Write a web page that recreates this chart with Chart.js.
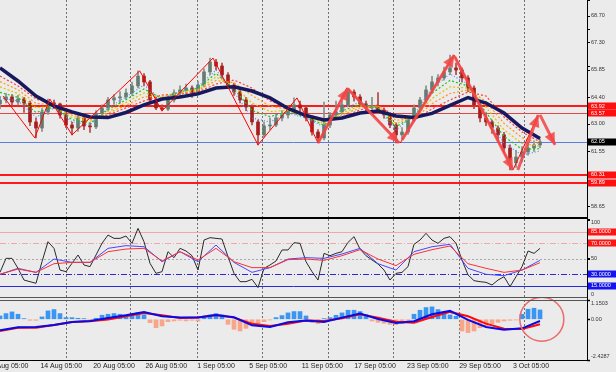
<!DOCTYPE html>
<html>
<head>
<meta charset="utf-8">
<title>Oil chart</title>
<script src="https://cdn.jsdelivr.net/npm/chart.js@4.4.1/dist/chart.umd.min.js"></script>
<style>
  html, body { margin: 0; padding: 0; background: #ebebeb; overflow: hidden; }
  #wrap { position: relative; width: 616px; height: 372px; }
  #wrap canvas { position: absolute; left: 0; }
  .rule { position: absolute; left: 0; width: 588px; z-index: 5; }
</style>
</head>
<body>
<div id="wrap">
  <canvas id="cMain" width="616" height="217" style="top:0"></canvas>
  <canvas id="cRsi" width="616" height="79" style="top:219px"></canvas>
  <canvas id="cMacd" width="616" height="75" style="top:297px"></canvas>
  <div class="rule" style="top:217px;height:2px;background:#000"></div>
  <div class="rule" style="top:297px;height:1px;background:#555"></div>
  <div class="rule" style="top:300px;height:1px;background:#555"></div>
  <div class="rule" style="top:360px;height:1px;background:#000"></div>
  <div class="rule" style="top:0;left:587px;width:1px;height:361px;background:#000"></div>
</div>
<script>
// ---- datos (indice = vela) ----
const candleOpen = [64.05,64.26,64.42,64.15,64.31,64.10,63.10,62.78,63.63,64.10,
  64.05,63.47,62.94,62.78,63.31,62.89,62.84,63.57,63.84,64.26,
  64.37,64.42,64.63,65.00,65.52,65.21,64.26,63.84,63.78,64.26,
  64.63,64.79,64.89,64.63,65.05,65.74,66.26,66.05,65.58,65.05,
  64.68,64.26,63.89,63.10,62.42,62.89,62.94,63.31,63.47,63.73,
  64.00,63.84,63.31,62.57,62.26,62.94,63.47,63.63,64.00,64.68,
  64.42,64.05,63.84,63.94,63.73,63.47,62.94,62.42,62.57,63.20,
  63.84,64.26,64.79,65.21,65.42,65.74,65.95,65.84,65.42,64.89,
  64.00,63.31,63.10,62.78,62.42,61.73,60.95,61.25,61.52,61.73,61.89];
const candleHigh = [64.45,64.60,64.55,64.50,64.40,64.20,63.30,63.80,64.31,64.25,
  64.10,63.60,63.10,63.50,63.40,63.05,63.70,64.00,64.40,64.55,
  64.70,64.85,65.20,65.79,65.65,65.30,64.40,64.00,64.45,64.80,
  65.00,65.10,65.00,65.25,65.90,66.47,66.40,66.20,65.70,65.15,
  64.80,64.40,64.00,63.20,63.10,63.30,63.50,63.70,63.95,64.37,
  64.20,63.95,63.40,62.70,64.15,63.60,64.20,64.20,64.89,64.80,
  64.55,64.20,64.40,64.65,63.85,63.55,63.05,62.80,63.35,64.00,
  64.40,65.00,65.50,65.60,66.00,66.63,66.20,65.95,65.55,65.00,
  64.10,63.50,63.20,62.90,62.55,61.90,61.60,61.80,62.00,62.10,62.20];
const candleLow = [63.80,64.10,63.95,64.00,63.60,62.90,62.26,62.60,63.50,63.80,
  63.30,62.80,62.42,62.60,62.70,62.55,62.75,63.40,63.70,64.05,
  64.10,64.30,64.50,64.90,65.00,64.10,63.75,63.68,63.70,64.15,
  64.45,64.60,64.40,64.55,64.95,65.60,65.85,65.40,64.90,64.50,
  64.10,63.70,62.95,61.89,62.30,62.70,62.85,63.15,63.30,63.60,
  63.65,63.15,62.40,61.99,62.15,62.80,63.30,63.50,63.90,64.20,
  63.90,63.70,63.75,63.60,63.30,62.80,61.99,62.20,62.45,63.10,
  63.70,64.15,64.60,65.00,65.30,65.60,65.60,65.20,64.70,63.80,
  63.10,62.90,62.50,62.10,61.50,60.57,60.70,61.00,61.35,61.55,61.75];
const candleClose = [64.26,64.42,64.15,64.31,64.10,63.10,62.78,63.63,64.10,64.05,
  63.47,62.94,62.78,63.31,62.89,62.84,63.57,63.84,64.26,64.37,
  64.42,64.63,65.00,65.52,65.21,64.26,63.84,63.78,64.26,64.63,
  64.79,64.89,64.63,65.05,65.74,66.26,66.05,65.58,65.05,64.68,
  64.26,63.89,63.10,62.42,62.89,62.94,63.31,63.47,63.73,64.00,
  63.84,63.31,62.57,62.26,62.94,63.47,63.63,64.00,64.68,64.42,
  64.05,63.84,63.94,63.73,63.47,62.94,62.42,62.57,63.20,63.84,
  64.26,64.79,65.21,65.42,65.74,65.95,65.84,65.42,64.89,64.00,
  63.31,63.10,62.78,62.42,61.73,61.10,61.25,61.52,61.73,61.89,62.05];

// medias (muestreadas cada 3 velas)
const sampleIdx = [0,3,6,9,12,15,18,21,24,27,30,33,36,39,42,45,48,51,54,57,60,63,66,69,72,75,78,81,84,87,90];
const maSlow = [65.95,65.26,64.47,63.94,63.63,63.36,63.33,63.60,64.00,64.31,64.42,64.58,64.89,64.95,64.73,64.37,63.81,63.44,63.20,63.31,63.57,63.68,63.42,63.34,63.55,63.97,64.39,64.10,63.57,62.78,62.23];
const ribBlue = [64.37,64.21,63.36,63.84,63.10,62.94,63.84,64.42,65.05,64.26,64.73,64.95,65.84,64.68,63.31,63.10,63.57,63.31,62.84,63.79,64.15,63.79,62.68,63.47,64.89,65.63,65.10,63.31,61.99,61.36,61.57];
const ribGreen = [64.66,64.40,63.60,63.89,63.22,63.03,63.75,64.27,64.84,64.33,64.70,64.88,65.66,64.84,63.71,63.38,63.64,63.36,62.93,63.68,64.05,63.84,62.85,63.40,64.62,65.29,65.00,63.60,62.34,61.66,61.69];
const ribYellow = [64.95,64.60,63.84,63.94,63.34,63.13,63.65,64.13,64.63,64.39,64.66,64.81,65.47,65.00,64.10,63.65,63.71,63.42,63.02,63.57,63.94,63.89,63.02,63.34,64.34,64.95,64.89,63.89,62.68,61.97,61.81];
const ribOrange = [65.23,64.80,64.08,64.00,63.46,63.22,63.56,63.98,64.42,64.46,64.62,64.75,65.29,65.16,64.50,63.93,63.77,63.47,63.11,63.47,63.84,63.94,63.19,63.27,64.06,64.60,64.79,64.18,63.02,62.27,61.93];
const ribRed = [65.52,65.00,64.31,64.05,63.57,63.31,63.47,63.84,64.21,64.52,64.58,64.68,65.10,65.31,64.89,64.21,63.84,63.52,63.20,63.36,63.73,64.00,63.36,63.20,63.79,64.26,64.68,64.47,63.36,62.57,62.05];

// zigzag y flechas
const zigIdx = [0.5,5.8,8.3,12,23.3,27,35.5,43,49.5,53,57.8,66.7,75.7,85.5,89.7];
const zigVal = [64.47,62.26,64.31,62.42,65.79,63.68,66.47,61.89,64.37,61.99,64.89,61.99,66.63,60.57,63.47];
const arrowFromIdx = [53,58,67,75.8,86.3,90];
const arrowFromVal = [61.99,64.84,62.15,66.53,60.57,63.47];
const arrowToIdx = [58,66.5,75.7,85.5,89.7,92.5];
const arrowToVal = [64.89,61.99,66.63,60.57,63.47,61.89];

// niveles y etiquetas del eje de precio
const priceLevels = [63.92, 63.57, 62.05, 60.31, 59.89];
const priceTicks = [68.70, 67.30, 65.85, 64.40, 63.00, 61.55, 58.65];

// RSI
const rsiBlack = [32.5,50.6,50.6,37.7,22.6,20.5,18.4,46.3,72.1,63.5,
  35.5,33.4,44.2,54.9,42.0,39.9,54.9,70.0,80.7,76.4,
  76.4,79.4,70.0,89.3,72.1,44.2,31.2,33.4,59.2,51.5,
  63.5,60.1,54.0,35.5,74.2,77.3,76.4,75.5,52.7,31.2,
  20.5,20.5,23.5,12.8,37.7,42.0,47.2,61.4,61.4,70.8,
  70.0,46.3,33.4,22.6,57.0,54.0,57.0,59.2,71.2,78.6,
  62.6,54.0,48.5,43.3,35.5,22.6,31.2,32.5,39.9,68.7,
  74.2,82.9,74.2,70.0,76.4,78.6,70.0,48.5,29.1,21.8,
  20.5,19.6,16.2,22.6,26.9,14.1,26.9,39.9,60.1,57.0,63.5];
const rsiBlue = [30.0,37.7,32.5,49.7,45.4,45.4,63.5,67.0,65.6,46.3,59.2,46.3,67.8,45.4,32.5,38.6,49.7,51.5,50.6,56.2,63.5,43.7,35.5,59.2,65.6,68.7,37.7,30.0,28.2,35.5,48.0];
const rsiRed = [30.0,36.8,32.5,43.7,45.4,45.4,59.2,62.6,63.5,47.2,59.2,48.5,63.5,46.3,38.6,38.6,48.9,49.7,48.0,54.0,61.8,49.7,41.2,55.8,61.8,66.5,43.7,37.7,32.5,35.5,45.0];
const rsiLevels = [85, 70, 50, 30, 15];
const rsiTicks = [100, 50, 0];

// MACD
const macdHist = [0.20,0.34,0.44,0.30,0.04,-0.06,-0.06,0.14,0.50,0.58,
  0.34,0.10,0.10,0.06,0.04,-0.04,0.06,0.24,0.30,0.34,
  0.30,0.26,0.34,0.40,0.26,-0.20,-0.50,-0.40,-0.14,-0.10,
  -0.06,-0.10,-0.06,-0.10,0.18,0.26,0.34,0.26,-0.30,-0.60,
  -0.70,-0.54,-0.34,-0.26,-0.14,-0.04,0.10,0.22,0.38,0.46,
  0.46,0.20,-0.20,-0.26,0.04,0.10,0.24,0.38,0.54,0.54,
  0.46,0.26,-0.10,-0.18,-0.24,-0.30,-0.32,-0.26,-0.10,0.30,
  0.54,0.70,0.74,0.58,0.40,0.26,0.18,-0.70,-0.80,-0.70,
  -0.50,-0.38,-0.26,-0.18,-0.10,-0.06,-0.04,0.30,0.60,0.66,0.56];
const macdMain = [-0.66,-0.48,-0.46,-0.34,-0.16,-0.10,0.08,0.24,0.44,0.18,0.10,0.10,0.26,0.12,-0.36,-0.46,-0.18,-0.08,-0.16,0.10,0.34,0.02,-0.22,-0.12,0.30,0.50,-0.04,-0.46,-0.62,-0.54,-0.10];
const macdSignal = [-0.70,-0.50,-0.50,-0.34,-0.16,-0.12,-0.02,0.18,0.38,0.24,0.08,0.10,0.26,0.10,-0.26,-0.40,-0.26,-0.08,-0.10,0.06,0.30,0.10,-0.14,-0.20,0.14,0.44,0.18,-0.26,-0.56,-0.58,-0.30];
const macdTicks = [1.1503, 0, -2.4287];
const macdTickText = ['1.1503', '0.00', '-2.4287'];
const circleIdx = 90.3, circleVal = 0;

// eje de tiempo
const dateIdx = [1.6,10.2,19,27.7,36,44.7,53.7,62.5,71.3,80,88.5];
const dateLabels = ['8 Aug 05:00','14 Aug 05:00','20 Aug 05:00','26 Aug 05:00','1 Sep 05:00','5 Sep 05:00','11 Sep 05:00','17 Sep 05:00','23 Sep 05:00','29 Sep 05:00','3 Oct 05:00'];
const sepIdx = [10.95,21.7,32.8,43.6,54.6,65.45,76.5,87.3];

// ---- estilos ----
const X_MAX = 97.83;
const FONT = "'Liberation Sans', Arial, sans-serif";
const AXIS_FONT = '5.5px ' + FONT;
const ARROW = 'rgba(242,72,72,0.88)';
const levelColors = ['#ff1a1a', '#e24848', '#5b7fe0', '#ff1a1a', '#ff1a1a'];
const levelWidths = [2, 1, 1, 2, 2];
const levelBoxColors = ['#ff1010', '#ff1010', '#000000', '#ff1010', '#ff1010'];
const rsiLevelColors = ['#f3a8a8', '#f3a8a8', '#a8a8a8', '#2a2ad8', '#2a2ad8'];
const rsiLevelDash = [[], [6, 2, 1, 2], [2, 2], [6, 2, 1, 2], []];
const rsiBoxColors = { 85: '#ff1414', 70: '#ff1414', 30: '#1414f0', 15: '#1414f0' };

function series(idx, vals, color, width, dash, order) {
  return {
    type: 'line',
    data: idx.map((x, k) => ({ x, y: vals[k] })),
    borderColor: color, borderWidth: width, borderDash: dash || [],
    pointRadius: 0, fill: false, tension: 0, order
  };
}

function hiddenX() {
  return { type: 'linear', min: 0, max: X_MAX, offset: false, display: false };
}

function rightY(min, max, extra) {
  return Object.assign({
    position: 'right', min, max,
    border: { display: true, color: '#000' },
    grid: { drawOnChartArea: false, tickLength: 3, color: '#000' },
    ticks: { display: false },
    afterFit: s => { s.width = 29; s.paddingTop = 0; s.paddingBottom = 0; }
  }, extra || {});
}

const sepPlugin = {
  id: 'seps',
  beforeDatasetsDraw(chart) {
    const { ctx, chartArea: a, scales: { x } } = chart;
    ctx.save();
    ctx.strokeStyle = '#6e6e6e';
    ctx.lineWidth = 1;
    ctx.setLineDash([2, 2]);
    sepIdx.forEach(v => {
      const px = Math.round(x.getPixelForValue(v)) + 0.5;
      ctx.beginPath(); ctx.moveTo(px, a.top); ctx.lineTo(px, a.bottom); ctx.stroke();
    });
    ctx.restore();
  }
};

function boxLabel(ctx, a, py, text, bg) {
  ctx.fillStyle = bg;
  ctx.fillRect(a.right + 1, Math.round(py) - 3.5, 28, 7);
  ctx.fillStyle = '#fff';
  ctx.textBaseline = 'middle';
  ctx.fillText(text, a.right + 4, py);
}

function plainLabel(ctx, a, py, text) {
  let base = 'middle', ty = py;
  if (py - a.top < 4) { base = 'top'; ty = a.top + 1; }
  else if (a.bottom - py < 4) { base = 'bottom'; ty = a.bottom - 1; }
  ctx.strokeStyle = '#000';
  ctx.beginPath(); ctx.moveTo(a.right, Math.round(py) + 0.5); ctx.lineTo(a.right + 3, Math.round(py) + 0.5); ctx.stroke();
  ctx.fillStyle = '#333';
  ctx.textBaseline = base;
  ctx.fillText(text, a.right + 4, ty);
}

const baseOptions = extra => Object.assign({
  responsive: false, animation: false, devicePixelRatio: 1,
  layout: { padding: 0, autoPadding: false },
  plugins: { legend: { display: false }, tooltip: { enabled: false } }
}, extra);

// ---- panel principal ----
const candleColor = i => candleClose[i] >= candleOpen[i] ? '#647c70' : '#a51d1d';
const wickColor = i => candleClose[i] >= candleOpen[i] ? '#82918a' : '#b44444';

const mainPlugin = {
  id: 'mainDecor',
  beforeDatasetsDraw(chart) {
    const { ctx, chartArea: a, scales: { y } } = chart;
    ctx.save();
    priceLevels.forEach((v, k) => {
      const w = levelWidths[k];
      const py = Math.round(y.getPixelForValue(v)) + (w % 2 ? 0.5 : 0);
      ctx.strokeStyle = levelColors[k];
      ctx.lineWidth = w;
      ctx.beginPath(); ctx.moveTo(a.left, py); ctx.lineTo(a.right, py); ctx.stroke();
    });
    ctx.restore();
  },
  afterDatasetsDraw(chart) {
    const { ctx, scales: { x, y } } = chart;
    ctx.save();
    ctx.fillStyle = ARROW;
    arrowToIdx.forEach((_, k) => {
      const x0 = x.getPixelForValue(arrowFromIdx[k]), y0 = y.getPixelForValue(arrowFromVal[k]);
      const x1 = x.getPixelForValue(arrowToIdx[k]), y1 = y.getPixelForValue(arrowToVal[k]);
      const ang = Math.atan2(y1 - y0, x1 - x0), L = 12, W = 5.5;
      const bx = x1 - L * Math.cos(ang), by = y1 - L * Math.sin(ang);
      ctx.beginPath();
      ctx.moveTo(x1, y1);
      ctx.lineTo(bx + W * Math.sin(ang), by - W * Math.cos(ang));
      ctx.lineTo(bx - W * Math.sin(ang), by + W * Math.cos(ang));
      ctx.closePath();
      ctx.fill();
    });
    ctx.restore();
  },
  afterDraw(chart) {
    const { ctx, chartArea: a, scales: { y } } = chart;
    ctx.save();
    ctx.font = AXIS_FONT;
    priceTicks.forEach(v => plainLabel(ctx, a, y.getPixelForValue(v), v.toFixed(2)));
    priceLevels.forEach((v, k) => boxLabel(ctx, a, y.getPixelForValue(v), v.toFixed(2), levelBoxColors[k]));
    ctx.restore();
  }
};

const barIdx = candleOpen.map((_, i) => i);

new Chart(document.getElementById('cMain'), {
  type: 'line',
  data: {
    datasets: [
      ...arrowToIdx.map((_, k) => series([arrowFromIdx[k], arrowToIdx[k]], [arrowFromVal[k], arrowToVal[k]], ARROW, 3, null, 0)),
      series(zigIdx, zigVal, '#ff0000', 1, null, 1),
      series(sampleIdx, maSlow, '#18185e', 3.5, null, 2),
      series(sampleIdx, ribBlue, '#5a8cf0', 1.2, [1, 2], 3),
      series(sampleIdx, ribGreen, '#1fc41f', 1.2, [2, 2], 3),
      series(sampleIdx, ribYellow, '#e0c400', 1.2, [2, 2], 3),
      series(sampleIdx, ribOrange, '#ff9a1a', 1.2, [2, 2], 3),
      series(sampleIdx, ribRed, '#ff3b3b', 1.2, [2, 2], 3),
      {
        type: 'bar', order: 4, grouped: false, barThickness: 3, minBarLength: 1,
        data: barIdx.map(i => ({ x: i, y: [candleOpen[i], candleClose[i]] })),
        backgroundColor: c => candleColor(c.dataIndex)
      },
      {
        type: 'bar', order: 5, grouped: false, barThickness: 1,
        data: barIdx.map(i => ({ x: i, y: [candleLow[i], candleHigh[i]] })),
        backgroundColor: c => wickColor(c.dataIndex)
      }
    ]
  },
  options: baseOptions({ scales: { x: hiddenX(), y: rightY(58.09, 69.53) } }),
  plugins: [sepPlugin, mainPlugin]
});

// ---- RSI ----
const rsiPlugin = {
  id: 'rsiDecor',
  beforeDatasetsDraw(chart) {
    const { ctx, chartArea: a, scales: { y } } = chart;
    ctx.save();
    ctx.lineWidth = 1;
    rsiLevels.forEach((v, k) => {
      const py = Math.round(y.getPixelForValue(v)) + 0.5;
      ctx.strokeStyle = rsiLevelColors[k];
      ctx.setLineDash(rsiLevelDash[k]);
      ctx.beginPath(); ctx.moveTo(a.left, py); ctx.lineTo(a.right, py); ctx.stroke();
    });
    ctx.restore();
  },
  afterDraw(chart) {
    const { ctx, chartArea: a, scales: { y } } = chart;
    ctx.save();
    ctx.font = AXIS_FONT;
    rsiTicks.forEach(v => plainLabel(ctx, a, y.getPixelForValue(v), String(v)));
    rsiLevels.filter(v => rsiBoxColors[v]).forEach(v =>
      boxLabel(ctx, a, y.getPixelForValue(v), v.toFixed(4), rsiBoxColors[v]));
    ctx.restore();
  }
};

new Chart(document.getElementById('cRsi'), {
  type: 'line',
  data: {
    datasets: [
      series(barIdx, rsiBlack, '#2a2a2a', 1, null, 2),
      series(sampleIdx, rsiBlue, '#4646ff', 1, null, 1),
      series(sampleIdx, rsiRed, '#ff3030', 1, null, 0)
    ]
  },
  options: baseOptions({ scales: { x: hiddenX(), y: rightY(-0.6, 101.4) } }),
  plugins: [sepPlugin, rsiPlugin]
});

// ---- MACD ----
const macdPlugin = {
  id: 'macdDecor',
  afterDraw(chart) {
    const { ctx, chartArea: a, scales: { y } } = chart;
    ctx.save();
    ctx.font = AXIS_FONT;
    macdTicks.forEach((v, k) => plainLabel(ctx, a, y.getPixelForValue(v), macdTickText[k]));
    ctx.restore();
  }
};

new Chart(document.getElementById('cMacd'), {
  type: 'line',
  data: {
    datasets: [
      {
        type: 'line', order: 0, showLine: false, clip: false,
        data: [{ x: circleIdx, y: circleVal }],
        pointRadius: 22, pointBorderWidth: 1.5,
        pointBorderColor: '#ec6b6b', pointBackgroundColor: 'rgba(0,0,0,0)'
      },
      series(sampleIdx, macdMain, '#0a0ae6', 2, null, 1),
      series(sampleIdx, macdSignal, '#ff0a0a', 2, null, 2),
      {
        type: 'bar', order: 3, grouped: false, barThickness: 4,
        data: barIdx.map(i => ({ x: i, y: macdHist[i] })),
        backgroundColor: c => macdHist[c.dataIndex] >= 0 ? '#3b95f2' : '#f7a689'
      }
    ]
  },
  options: baseOptions({
    layout: { padding: { top: 3, left: 0, right: 0, bottom: 0 }, autoPadding: false },
    scales: {
      x: {
        type: 'linear', min: 0, max: X_MAX, offset: false,
        grid: { display: false, drawTicks: false },
        border: { display: false },
        ticks: {
          autoSkip: false, maxRotation: 0, minRotation: 0, padding: 2,
          color: '#222', font: { family: FONT, size: 7 },
          callback: (v, i) => dateLabels[i]
        },
        afterBuildTicks: ax => { ax.ticks = dateIdx.map(v => ({ value: v })); },
        afterFit: ax => { ax.height = 12; ax.paddingLeft = 0; ax.paddingRight = 0; }
      },
      y: rightY(-2.4287, 1.1503)
    }
  }),
  plugins: [sepPlugin, macdPlugin]
});
</script>
</body>
</html>
